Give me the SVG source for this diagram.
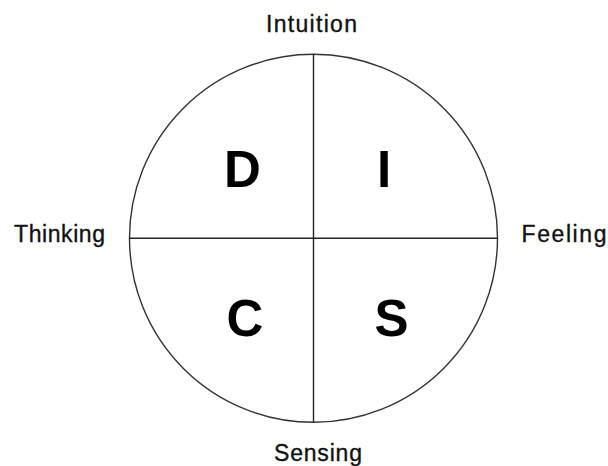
<svg xmlns="http://www.w3.org/2000/svg" width="608" height="466" viewBox="0 0 608 466">
<style>
.lbl{font-family:"Liberation Sans",Arial,sans-serif;font-size:23px;fill:#111;stroke:#111;stroke-width:0.35}
.big{font-family:"Liberation Sans",Arial,sans-serif;font-size:51px;font-weight:bold;fill:#000;text-anchor:middle}
.ln{stroke:#222;stroke-width:1.4;fill:none}
</style>
<rect width="608" height="466" fill="#fff"/>
<g id="circle"><circle cx="313.5" cy="238.3" r="184" fill="#fff" stroke="#333" stroke-width="1.4"/></g>
<g id="connectors">
<line class="ln" x1="313.5" y1="54.3" x2="313.5" y2="422.3"/>
<line class="ln" x1="129.5" y1="238.3" x2="497.5" y2="238.3"/>
</g>
<g id="D"><text class="big" x="242.5" y="187">D</text></g>
<g id="I"><text class="big" x="384" y="187">I</text></g>
<g id="C"><text class="big" x="245" y="336">C</text></g>
<g id="S"><text class="big" x="391.5" y="336">S</text></g>
<g id="intuition"><text class="lbl" x="266" y="31.5" textLength="91" lengthAdjust="spacing">Intuition</text></g>
<g id="thinking"><text class="lbl" x="14" y="242" textLength="91" lengthAdjust="spacing">Thinking</text></g>
<g id="feeling"><text class="lbl" x="521.5" y="242" textLength="85" lengthAdjust="spacing">Feeling</text></g>
<g id="sensing"><text class="lbl" x="274" y="461" textLength="88" lengthAdjust="spacing">Sensing</text></g>
</svg>
